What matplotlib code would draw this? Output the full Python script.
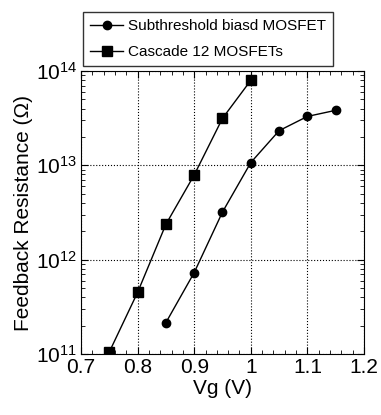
import matplotlib
matplotlib.use('Agg')
import matplotlib.pyplot as plt
from matplotlib.ticker import MultipleLocator, LogLocator, NullFormatter

plt.rcParams['font.family'] = ['Liberation Sans', 'DejaVu Sans']
plt.rcParams['mathtext.fontset'] = 'custom'
plt.rcParams['mathtext.rm'] = 'Liberation Sans'

# subthreshold biased MOSFET
vg_sub = [0.85, 0.90, 0.95, 1.00, 1.05, 1.10, 1.15]
r_sub = [2.15e11, 7.3e11, 3.2e12, 1.07e13, 2.33e13, 3.3e13, 3.83e13]

# cascade of 12 MOSFETs
vg_cas = [0.75, 0.80, 0.85, 0.90, 0.95, 1.00]
r_cas = [1.05e11, 4.5e11, 2.37e12, 7.9e12, 3.15e13, 7.96e13]

fig = plt.figure(figsize=(3.81, 4.15), dpi=100)
ax = fig.add_axes([81 / 381, 1 - 354 / 415, 283 / 381, 283 / 415])

ax.plot(vg_sub, r_sub, '-o', color='black', lw=1, ms=6,
        label='Subthreshold biasd MOSFET')
ax.plot(vg_cas, r_cas, '-s', color='black', lw=1, ms=7,
        label='Cascade 12 MOSFETs')

ax.set_yscale('log')
ax.set_xlim(0.7, 1.2)
ax.set_ylim(1e11, 1e14)
ax.xaxis.set_minor_locator(MultipleLocator(0.02))
ax.set_xticks([0.7, 0.8, 0.9, 1.0, 1.1, 1.2])
ax.set_xticklabels(['0.7', '0.8', '0.9', '1', '1.1', '1.2'])
ax.yaxis.set_minor_locator(LogLocator(base=10, subs=range(2, 10)))
ax.yaxis.set_minor_formatter(NullFormatter())

ax.tick_params(which='both', direction='in', top=True, right=True)
ax.tick_params(which='major', length=5, labelsize=15, pad=3)
ax.tick_params(which='minor', length=3)
ax.grid(True, which='major', linestyle=':', color='black', lw=0.8)

ax.set_xlabel('Vg (V)', fontsize=15, labelpad=1)
ax.set_ylabel('Feedback Resistance (Ω)', fontsize=15, labelpad=2)

ax.legend(loc='lower left', bbox_to_anchor=(2 / 283, 1 + 5 / 283),
          fontsize=11, frameon=True, fancybox=False, edgecolor='black',
          handlelength=2.2, handletextpad=0.3, borderpad=0.45,
          labelspacing=0.8, borderaxespad=0)

fig.savefig('out.png', dpi=100)
